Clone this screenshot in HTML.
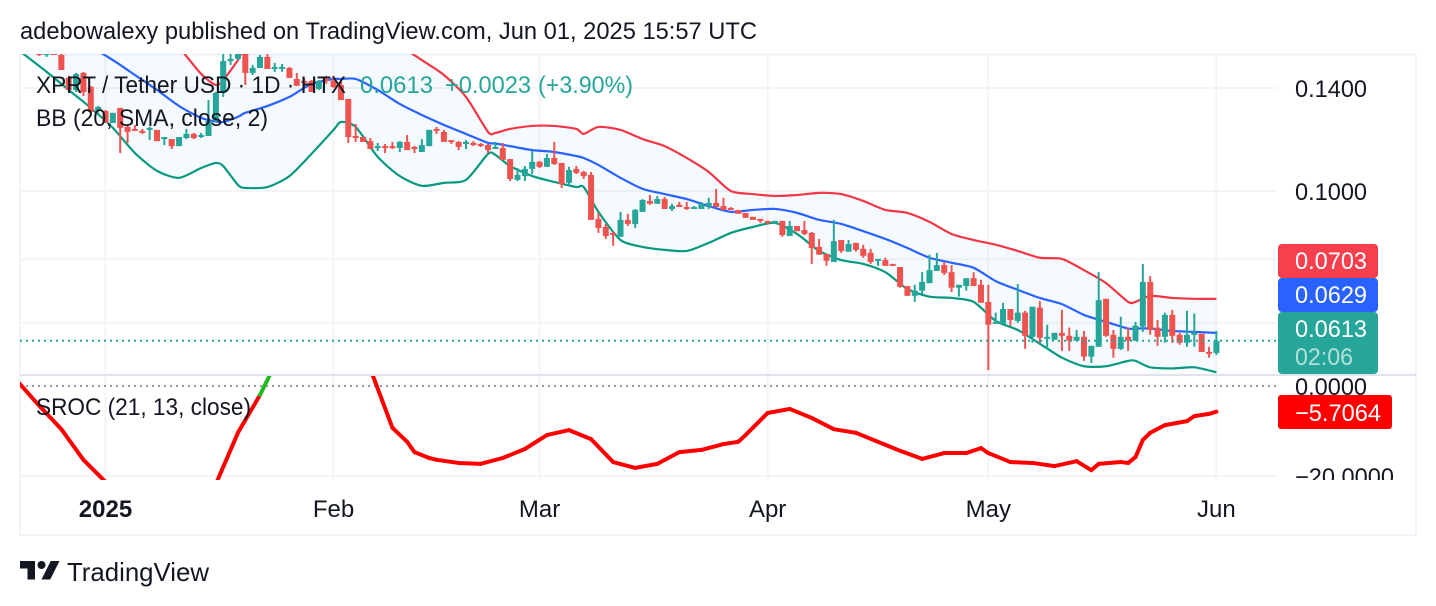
<!DOCTYPE html>
<html lang="en">
<head>
<meta charset="utf-8">
<title>XPRT / Tether USD chart</title>
<style>
html,body{margin:0;padding:0;background:#fff;width:1436px;height:606px;overflow:hidden}
svg{display:block;font-family:"Liberation Sans",Arial,sans-serif}
</style>
</head>
<body>
<svg id="chart" xmlns="http://www.w3.org/2000/svg" width="1436" height="606" viewBox="0 0 1436 606">
  <defs>
    <clipPath id="main-clip"><rect x="20" y="54" width="1256" height="321"/></clipPath>
    <clipPath id="osc-clip"><rect x="20" y="376" width="1256" height="104"/></clipPath>
    <clipPath id="axis-clip"><rect x="1278" y="376" width="138" height="104"/></clipPath>
  </defs>
  <rect x="0" y="0" width="1436" height="606" fill="#ffffff"/>
  <text x="20" y="39" font-size="24" fill="#131722" textLength="737" lengthAdjust="spacingAndGlyphs">adebowalexy published on TradingView.com, Jun 01, 2025 15:57 UTC</text>
  <g id="grid"></g>
  <rect x="20" y="54.5" width="1396" height="480.5" fill="none" stroke="#f0f3fa" stroke-width="2"/>
  <g id="price-pane" clip-path="url(#main-clip)"></g>
  <line x1="20" x2="1416" y1="375" y2="375" stroke="#e0e3eb" stroke-width="2"/>
  <line id="last-price-line" x1="20" x2="1278" stroke="#26a69a" stroke-width="2" stroke-dasharray="2 4"/>
  <line id="zero-line" x1="20" x2="1276" stroke="#9598a1" stroke-width="2" stroke-dasharray="2 4"/>
  <g id="osc-pane" clip-path="url(#osc-clip)"></g>

  <g>
    <text x="36" y="93" font-size="24" fill="#131722" textLength="310" lengthAdjust="spacingAndGlyphs">XPRT / Tether USD · 1D · HTX</text>
    <text x="360" y="93" font-size="24" fill="#26a69a" textLength="73" lengthAdjust="spacingAndGlyphs">0.0613</text>
    <text x="445" y="93" font-size="24" fill="#26a69a" textLength="86" lengthAdjust="spacingAndGlyphs">+0.0023</text>
    <text x="538" y="93" font-size="24" fill="#26a69a" textLength="95" lengthAdjust="spacingAndGlyphs">(+3.90%)</text>
    <text x="36" y="126" font-size="24" fill="#131722" textLength="232" lengthAdjust="spacingAndGlyphs">BB (20, SMA, close, 2)</text>
    <text x="36" y="415" font-size="24" fill="#131722" textLength="215" lengthAdjust="spacingAndGlyphs">SROC (21, 13, close)</text>
  </g>

  <g id="price-axis"></g>
  <text x="1295" y="395" font-size="24" fill="#131722" textLength="72" lengthAdjust="spacingAndGlyphs">0.0000</text>
  <text x="1295" y="485" font-size="24" fill="#131722" textLength="99" lengthAdjust="spacingAndGlyphs" clip-path="url(#axis-clip)">−20.0000</text>

  <g>
    <rect x="1278" y="244" width="100" height="34" rx="4" fill="#f7404e"/>
    <text x="1295" y="269" font-size="24" fill="#ffffff" textLength="72" lengthAdjust="spacingAndGlyphs">0.0703</text>
  </g>
  <g>
    <rect x="1278" y="278" width="100" height="34" rx="4" fill="#2962ff"/>
    <text x="1295" y="303" font-size="24" fill="#ffffff" textLength="72" lengthAdjust="spacingAndGlyphs">0.0629</text>
  </g>
  <g>
    <rect x="1278" y="312" width="100" height="62" rx="4" fill="#26a69a"/>
    <text x="1295" y="337" font-size="24" fill="#ffffff" textLength="72" lengthAdjust="spacingAndGlyphs">0.0613</text>
    <text x="1295" y="365" font-size="24" fill="#ffffff" fill-opacity="0.65" textLength="58" lengthAdjust="spacingAndGlyphs">02:06</text>
  </g>
  <g>
    <rect x="1278" y="395" width="114" height="34" rx="3" fill="#ff0000"/>
    <text x="1295" y="421" font-size="24" fill="#ffffff" textLength="86" lengthAdjust="spacingAndGlyphs">−5.7064</text>
  </g>

  <g id="time-axis"></g>

  <g>
    <path d="M20 561H35V579.5H27.5V568.5H20Z" fill="#131722"/>
    <circle cx="41.5" cy="565" r="4" fill="#131722"/>
    <path d="M50.7 561H59.5L50.2 579.5H41.5Z" fill="#131722"/>
    <text x="67" y="581" font-size="26" fill="#131722" textLength="142" lengthAdjust="spacingAndGlyphs">TradingView</text>
  </g>
</svg>

<script>
// ---- time categories: candle index 0 is firstDay (days relative to 1 Jan 2025) ----
const firstDay = -11;

const opens = [
.1590,.1605,.1570,.1560,.1570,.1560,.1447,.1391,.1471,.1405,
.1303,.1299,.1249,.1312,.1233,.1225,.1217,.1221,.1221,.1185,
.1185,.1158,.1189,.1205,.1193,.1197,.1257,.1378,.1529,.1540,
.1575,.1471,.1495,.1550,.1490,.1490,.1495,.1442,.1433,.1433,
.1396,.1442,.1433,.1414,.1351,.1197,.1193,.1177,.1151,.1158,
.1158,.1151,.1174,.1155,.1136,.1158,.1225,.1213,.1181,.1174,
.1166,.1170,.1166,.1162,.1147,.1151,.1110,.1037,.1050,.1075,
.1100,.1082,.1114,.1096,.1027,.1075,.1064,.1054,.0913,.0889,
.0872,.0861,.0910,.0898,.0934,.0968,.0959,.0974,.0943,.0956,
.0949,.0943,.0943,.0949,.0962,.0952,.0946,.0940,.0931,.0919,
.0913,.0907,.0904,.0907,.0863,.0892,.0880,.0872,.0833,.0814,
.0793,.0852,.0820,.0844,.0828,.0817,.0796,.0798,.0788,.0780,
.0733,.0710,.0722,.0740,.0770,.0785,.0767,.0729,.0733,.0752,
.0736,.0696,.0648,.0648,.0680,.0654,.0672,.0621,.0683,.0617,
.0615,.0629,.0623,.0613,.0621,.0582,.0601,.0703,.0625,.0597,
.0621,.0613,.0642,.0743,.0640,.0621,.0667,.0625,.0609,.0625,
.0627,.0591,.0589];

const highs = [
.1610,.1620,.1575,.1575,.1580,.1565,.1457,.1471,.1476,.1410,
.1320,.1303,.1291,.1312,.1241,.1241,.1225,.1233,.1221,.1193,
.1185,.1193,.1225,.1209,.1209,.1346,.1382,.1565,.1565,.1590,
.1585,.1510,.1560,.1565,.1520,.1515,.1500,.1471,.1447,.1437,
.1437,.1457,.1457,.1437,.1351,.1245,.1193,.1189,.1170,.1166,
.1174,.1177,.1201,.1158,.1185,.1221,.1233,.1221,.1181,.1177,
.1181,.1177,.1170,.1166,.1174,.1170,.1110,.1078,.1085,.1140,
.1103,.1129,.1174,.1096,.1082,.1085,.1068,.1064,.0931,.0898,
.0875,.0934,.0928,.0943,.0974,.0987,.0984,.0981,.0959,.0965,
.0965,.0952,.0965,.0978,.1007,.0978,.0949,.0940,.0931,.0919,
.0913,.0907,.0907,.0907,.0907,.0892,.0907,.0875,.0855,.0814,
.0910,.0852,.0852,.0844,.0839,.0828,.0801,.0804,.0788,.0780,
.0733,.0736,.0767,.0812,.0817,.0793,.0785,.0736,.0752,.0767,
.0748,.0736,.0672,.0694,.0680,.0738,.0676,.0685,.0698,.0646,
.0629,.0678,.0640,.0635,.0633,.0603,.0767,.0703,.0635,.0663,
.0640,.0652,.0788,.0757,.0656,.0672,.0678,.0629,.0676,.0670,
.0627,.0601,.0633];

const lows = [
.1580,.1585,.1555,.1550,.1560,.1485,.1391,.1382,.1364,.1295,
.1291,.1249,.1249,.1132,.1170,.1217,.1205,.1181,.1177,.1162,
.1147,.1158,.1185,.1185,.1189,.1197,.1253,.1360,.1510,.1535,
.1414,.1461,.1495,.1490,.1476,.1476,.1447,.1410,.1410,.1382,
.1391,.1419,.1401,.1346,.1170,.1174,.1174,.1147,.1140,.1132,
.1147,.1136,.1143,.1132,.1136,.1158,.1205,.1174,.1166,.1143,
.1147,.1158,.1155,.1132,.1147,.1107,.1033,.1033,.1033,.1057,
.1078,.1082,.1089,.1010,.1017,.1057,.1040,.0910,.0872,.0855,
.0836,.0861,.0892,.0886,.0934,.0956,.0959,.0943,.0937,.0949,
.0940,.0943,.0943,.0943,.0949,.0940,.0940,.0928,.0916,.0910,
.0901,.0898,.0898,.0861,.0863,.0877,.0866,.0788,.0812,.0783,
.0793,.0817,.0820,.0820,.0804,.0788,.0783,.0783,.0783,.0729,
.0710,.0696,.0715,.0740,.0770,.0760,.0719,.0708,.0722,.0733,
.0694,.0557,.0648,.0648,.0644,.0650,.0597,.0609,.0609,.0597,
.0615,.0593,.0593,.0613,.0574,.0570,.0601,.0621,.0580,.0595,
.0593,.0613,.0631,.0625,.0603,.0609,.0609,.0605,.0601,.0601,
.0591,.0580,.0585];

const closes = [
.1600,.1590,.1560,.1570,.1560,.1485,.1391,.1466,.1382,.1295,
.1316,.1249,.1291,.1229,.1213,.1217,.1213,.1229,.1177,.1193,
.1158,.1193,.1205,.1189,.1201,.1257,.1378,.1529,.1540,.1570,
.1471,.1495,.1550,.1490,.1500,.1500,.1447,.1410,.1424,.1382,
.1433,.1433,.1405,.1346,.1193,.1189,.1174,.1147,.1158,.1151,
.1151,.1174,.1143,.1147,.1162,.1221,.1217,.1174,.1174,.1155,
.1174,.1162,.1158,.1143,.1155,.1107,.1040,.1054,.1075,.1100,
.1082,.1114,.1092,.1023,.1071,.1061,.1050,.0910,.0886,.0863,
.0869,.0910,.0898,.0940,.0971,.0959,.0974,.0943,.0952,.0949,
.0943,.0949,.0959,.0962,.0949,.0940,.0940,.0928,.0916,.0910,
.0907,.0904,.0907,.0866,.0892,.0877,.0869,.0830,.0812,.0796,
.0849,.0822,.0841,.0825,.0809,.0793,.0801,.0783,.0783,.0731,
.0710,.0722,.0743,.0772,.0785,.0765,.0729,.0736,.0752,.0733,
.0694,.0646,.0652,.0680,.0656,.0672,.0623,.0685,.0619,.0621,
.0629,.0623,.0613,.0621,.0582,.0603,.0700,.0623,.0597,.0621,
.0613,.0644,.0743,.0635,.0621,.0667,.0623,.0609,.0625,.0629,
.0591,.0589,.0613];

// ---- Bollinger bands ----
const bbDays = [-12,-8,-5,-2,1,4,7,10,13,15,16,18,19,22,25,28,31,32,34,37,40,43,46,49,52,53,
55,58,61,64,65,67,70,73,76,79,82,85,88,91,94,97,100,103,106,109,112,115,118,121,124,127,130,133,136,139,140,142,145,148,151];

const bbUpper = [.2300,.2300,.2250,.2200,.2100,.1870,.1749,.1601,.1466,.1414,.1437,.1534,.1611,.1749,.1778,.1778,.1806,.1790,.1778,.1720,.1611,.1534,.1461,.1360,.1213,.1209,
.1225,.1237,.1237,.1225,.1205,.1233,.1221,.1185,.1158,.1114,.1064,.1000,.0990,.0984,.0987,.0994,.0990,.0968,.0940,.0931,.0904,.0869,.0852,.0839,.0822,.0804,.0801,.0772,.0740,.0696,.0696,.0710,.0705,.0703,.0703];

const bbBasis = [.1790,.1710,.1650,.1600,.1534,.1461,.1391,.1320,.1270,.1255,.1253,.1274,.1291,.1320,.1360,.1419,.1442,.1442,.1442,.1391,.1329,.1282,.1241,.1205,.1170,.1168,
.1158,.1143,.1136,.1121,.1114,.1089,.1044,.1007,.0990,.0974,.0952,.0934,.0940,.0943,.0931,.0910,.0898,.0877,.0855,.0830,.0804,.0791,.0778,.0745,.0724,.0705,.0691,.0667,.0652,.0638,.0638,.0638,.0633,.0631,.0629];

const bbLower = [.1590,.1476,.1391,.1312,.1229,.1132,.1068,.1044,.1078,.1096,.1085,.1020,.1010,.1013,.1050,.1129,.1221,.1253,.1233,.1118,.1050,.1017,.1027,.1037,.1129,.1125,
.1085,.1050,.1030,.1013,.1013,.0934,.0852,.0833,.0825,.0822,.0844,.0872,.0889,.0901,.0869,.0822,.0798,.0788,.0767,.0726,.0708,.0705,.0696,.0654,.0635,.0607,.0580,.0564,.0564,.0574,.0574,.0562,.0560,.0562,.0553];

// ---- SROC oscillator ----
const srocDays = [-12,-9,-6,-3,0,3,6,9,12,15,18,21,24,27,30,33,36,
39,41,42,44,45,48,51,54,57,60,63,66,69,72,75,78,81,84,86,87,90,93,96,99,102,105,108,111,114,117,
119,120,123,126,129,132,134,135,138,139,140,141,142,144,147,148,150,151];

const srocValues = [1.1,-4.4,-9.6,-16.4,-21.3,-25.3,-28.7,-30.9,-29.8,-21.8,-10.4,-2.0,8,14.7,19,19,3.8,
-9.3,-12.4,-14.7,-16,-16.4,-17.1,-17.3,-16,-14,-10.9,-9.8,-11.8,-16.9,-18.2,-17.3,-14.7,-14.2,-12.9,-12.4,-10.9,-6,-5.1,-7.1,-9.6,-10.4,-12.4,-14.4,-16.2,-14.9,-14.9,
-13.8,-14.9,-16.9,-17.1,-17.8,-16.7,-18.7,-17.3,-16.9,-17.1,-15.8,-12,-10.4,-8.7,-7.8,-6.7,-6.2,-5.7064];

// ---- ticks ----
const lastPrice = 0.0613;
const priceGridTicks = [0.14, 0.10, 0.08, 0.065];
const priceAxisTicks = [0.14, 0.10];
const priceAxisLabels = ["0.1400", "0.1000"];
const srocGridTicks = [-20];
const timeTickDays = [0, 31, 59, 90, 120, 151];
const timeTickLabels = ["2025", "Feb", "Mar", "Apr", "May", "Jun"];

// ---- axis functions ----
function xOf(day) { return 105.5 + day * 7.357; }
function yOf(price) { return 191 + 306 * Math.log(0.1 / price); }
function yOsc(value) { return 386 - value * 4.5; }

const NS = "http://www.w3.org/2000/svg";
function make(tag, parent) {
  const el = document.createElementNS(NS, tag);
  parent.appendChild(el);
  return el;
}
// smooth curve through the readings; returns path commands without the leading move
function curve(days, values) {
  const pts = days.map(function (d, i) { return [xOf(d), yOf(values[i])]; });
  let s = "";
  for (let i = 0; i < pts.length - 1; i++) {
    const p0 = pts[Math.max(0, i - 1)], p1 = pts[i], p2 = pts[i + 1], p3 = pts[Math.min(pts.length - 1, i + 2)];
    const c1x = p1[0] + (p2[0] - p0[0]) / 8, c1y = p1[1] + (p2[1] - p0[1]) / 8;
    const c2x = p2[0] - (p3[0] - p1[0]) / 8, c2y = p2[1] - (p3[1] - p1[1]) / 8;
    s += "C" + c1x.toFixed(2) + " " + c1y.toFixed(2) + " " + c2x.toFixed(2) + " " + c2y.toFixed(2) + " " + p2[0].toFixed(2) + " " + p2[1].toFixed(2);
  }
  return s;
}
function start(days, values) {
  return "M" + xOf(days[0]).toFixed(2) + " " + yOf(values[0]).toFixed(2);
}

const grid = document.getElementById("grid");
const pricePane = document.getElementById("price-pane");
const oscPane = document.getElementById("osc-pane");
const priceAxis = document.getElementById("price-axis");
const timeAxis = document.getElementById("time-axis");

// grid lines
priceGridTicks.forEach(function (p) {
  const l = make("line", grid);
  
  
  l.setAttribute("x1", 20); l.setAttribute("x2", 1276);
  l.setAttribute("y1", yOf(p)); l.setAttribute("y2", yOf(p));
  l.setAttribute("stroke", "#f3f4f6"); l.setAttribute("stroke-width", 2);
});
srocGridTicks.forEach(function (v) {
  const l = make("line", grid);
  
  
  l.setAttribute("x1", 20); l.setAttribute("x2", 1276);
  l.setAttribute("y1", yOsc(v)); l.setAttribute("y2", yOsc(v));
  l.setAttribute("stroke", "#f3f4f6"); l.setAttribute("stroke-width", 2);
});
timeTickDays.forEach(function (d) {
  const l = make("line", grid);
  
  
  l.setAttribute("x1", xOf(d)); l.setAttribute("x2", xOf(d));
  l.setAttribute("y1", 54); l.setAttribute("y2", 480);
  l.setAttribute("stroke", "#f3f4f6"); l.setAttribute("stroke-width", 2);
});

// Bollinger fill
const revDays = bbDays.slice().reverse();
const revLower = bbLower.slice().reverse();
const fill = make("path", pricePane);


fill.setAttribute("d", start(bbDays, bbUpper) + curve(bbDays, bbUpper) + "L" + xOf(revDays[0]).toFixed(2) + " " + yOf(revLower[0]).toFixed(2) + curve(revDays, revLower) + "Z");
fill.setAttribute("fill", "#2196f3");
fill.setAttribute("fill-opacity", "0.05");

// Bollinger lines
const upperLine = make("path", pricePane);


upperLine.setAttribute("d", start(bbDays, bbUpper) + curve(bbDays, bbUpper));
upperLine.setAttribute("stroke", "#f23645");

const basisLine = make("path", pricePane);


basisLine.setAttribute("d", start(bbDays, bbBasis) + curve(bbDays, bbBasis));
basisLine.setAttribute("stroke", "#2962ff");

const lowerLine = make("path", pricePane);


lowerLine.setAttribute("d", start(bbDays, bbLower) + curve(bbDays, bbLower));
lowerLine.setAttribute("stroke", "#089981");

[upperLine, basisLine, lowerLine].forEach(function (p) {
  p.setAttribute("fill", "none");
  p.setAttribute("stroke-width", "2.2");
  p.setAttribute("stroke-linejoin", "round");
});

// candles
closes.forEach(function (c, i) {
  const o = opens[i], h = highs[i], lo = lows[i];
  const x = xOf(firstDay + i);
  const color = c >= o ? "#26a69a" : "#ef5350";
  const wick = make("line", pricePane);
  
  
  wick.setAttribute("x1", x); wick.setAttribute("x2", x);
  wick.setAttribute("y1", yOf(h)); wick.setAttribute("y2", yOf(lo));
  wick.setAttribute("stroke", color); wick.setAttribute("stroke-width", 2);
  const top = yOf(Math.max(o, c));
  const bottom = yOf(Math.min(o, c));
  const body = make("rect", pricePane);
  
  
  body.setAttribute("x", x - 3);
  body.setAttribute("y", top);
  body.setAttribute("width", 6);
  body.setAttribute("height", Math.max(2, bottom - top));
  body.setAttribute("fill", color);
});

// last price / zero lines
const lastLine = document.getElementById("last-price-line");
lastLine.setAttribute("y1", yOf(lastPrice));
lastLine.setAttribute("y2", yOf(lastPrice));
const zeroLine = document.getElementById("zero-line");
zeroLine.setAttribute("y1", yOsc(0));
zeroLine.setAttribute("y2", yOsc(0));

// SROC line, one segment per reading
for (let i = 1; i < srocValues.length; i++) {
  const rising = srocValues[i] > srocValues[i - 1];
  const seg = make("line", oscPane);
  
  
  seg.setAttribute("x1", xOf(srocDays[i - 1]));
  seg.setAttribute("y1", yOsc(srocValues[i - 1]));
  seg.setAttribute("x2", xOf(srocDays[i]));
  seg.setAttribute("y2", yOsc(srocValues[i]));
  seg.setAttribute("stroke", rising && srocValues[i] > 0 ? "#22b922" : "#ff0000");
  seg.setAttribute("stroke-width", 4);
  seg.setAttribute("stroke-linecap", "round");
}

// price axis labels
priceAxisTicks.forEach(function (p, i) {
  const t = make("text", priceAxis);
  
  
  t.setAttribute("x", 1295);
  t.setAttribute("y", yOf(p) + 9);
  t.setAttribute("font-size", 24);
  t.setAttribute("fill", "#131722");
  t.setAttribute("textLength", 72);
  t.setAttribute("lengthAdjust", "spacingAndGlyphs");
  t.textContent = priceAxisLabels[i];
});

// time axis labels
timeTickDays.forEach(function (d, i) {
  const t = make("text", timeAxis);
  
  
  t.setAttribute("x", xOf(d));
  t.setAttribute("y", 517);
  t.setAttribute("font-size", 24);
  t.setAttribute("fill", "#131722");
  t.setAttribute("text-anchor", "middle");
  if (timeTickLabels[i] === "2025") { t.setAttribute("font-weight", "bold"); }
  t.textContent = timeTickLabels[i];
});
</script>
</body>
</html>
